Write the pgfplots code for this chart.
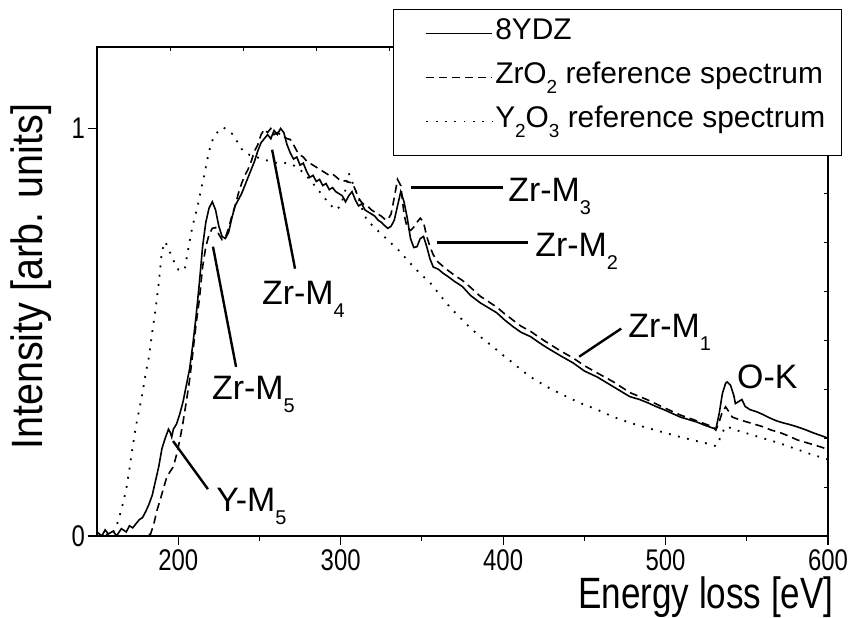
\documentclass[border=0pt]{standalone}
\usepackage{pgfplots}
\pgfplotsset{compat=1.18}
\usepackage{fontspec}
\setmainfont{Liberation Sans}
\newfontfamily\narrowsf[FakeStretch=0.8]{Liberation Sans}
\newfontfamily\semisf[FakeStretch=0.9]{Liberation Sans}
\newcommand\sub[1]{\raisebox{-0.38em}{\fontsize{20}{20}\selectfont #1}}
\newcommand\lsub[1]{\raisebox{-0.32em}{\fontsize{19}{19}\selectfont #1}}

\begin{document}
\begin{tikzpicture}
\useasboundingbox (-97bp,-82bp) rectangle (755bp,536bp);

% frame ticks on top and right
\begin{axis}[
  scale only axis, width=731bp, height=489bp,
  xmin=0, xmax=10, ymin=0, ymax=10,
  axis x line*=top, axis y line*=right,
  xtick={1,...,9}, ytick={1,...,9},
  xticklabels={}, yticklabels={},
  tick align=inside, major tick length=4bp,
  axis line style={line width=1.5bp},
  tick style={black, line width=1bp},
]
\end{axis}

\begin{axis}[
  scale only axis, width=731bp, height=489bp,
  xmin=150, xmax=600, ymin=0, ymax=1.2,
  xtick={200,300,400,500,600},
  minor xtick={250,350,450,550},
  ytick={0,1},
  xtick pos=bottom, ytick pos=left,
  tick align=outside,
  major tick length=9bp, minor tick length=5bp,
  tick style={black, line width=1.2bp},
  axis line style={line width=1.5bp},
  /pgf/number format/assume math mode=true,
  ticklabel style={font=\narrowsf\fontsize{30}{30}\selectfont, inner sep=1bp},
  xticklabel style={yshift=-3bp},
  yticklabel style={xshift=-2bp},
  xlabel={Energy loss [eV]},
  ylabel={Intensity [arb. units]},
  label style={inner sep=0pt},
  xlabel style={font=\narrowsf\fontsize{44}{44}\selectfont,
    at={(axis description cs:1.008,0)}, anchor=base east, yshift=-72bp},
  ylabel style={font=\semisf\fontsize{44}{44}\selectfont,
    at={(axis description cs:-0.0739,0.53)}, anchor=base},
  legend cell align=left,
  legend style={
    at={(axis description cs:0.405,1.0777)}, anchor=north west,
    draw=black, line width=1bp, fill=white,
    inner xsep=14bp, inner ysep=9bp, row sep=4bp,
    font=\fontsize{30}{30}\selectfont,
    nodes={inner ysep=0pt, inner xsep=2bp, text height=21bp, text depth=19bp},
  },
  legend image code/.code={
    \path (0bp,0bp);
    \draw[#1, line width=1.6bp] (18bp,5bp) -- (84bp,5bp);
  },
]

% 8YDZ
\addplot[black, line width=1.6bp] coordinates {
(150,0.01) (153,0.0) (155,0.015) (157,0.005) (160,0.012) (162,0.0) (165,0.018)
(168,0.01) (170,0.025) (172,0.02) (174,0.03) (176,0.04) (178,0.045) (180,0.06)
(182,0.078) (184,0.1) (186,0.135) (188,0.17) (190,0.215) (192,0.24) (194,0.262)
(195,0.255) (196,0.243) (197,0.262) (199,0.275) (201,0.3) (203,0.33) (205,0.37)
(207,0.41) (209,0.47) (211,0.54) (213,0.62) (215,0.71) (217,0.77) (219,0.805)
(221,0.82) (223,0.8) (225,0.76) (227,0.735) (229,0.73) (231,0.745) (233,0.78)
(235,0.81) (237,0.825) (239,0.84) (241,0.86) (243,0.88) (245,0.9) (247,0.92)
(249,0.945) (251,0.965) (253,0.975) (255,0.985) (257,0.975) (259,0.995)
(261,0.985) (263,1.0) (265,0.99) (267,0.96) (269,0.94) (271,0.925) (273,0.93)
(275,0.91) (277,0.915) (279,0.895) (281,0.88) (283,0.885) (285,0.87) (287,0.875)
(289,0.86) (291,0.865) (293,0.85) (295,0.855) (297,0.845) (299,0.84) (301,0.835)
(303,0.82) (305,0.835) (307,0.845) (309,0.825) (311,0.81) (313,0.815) (315,0.8)
(317,0.795) (319,0.79) (321,0.785) (323,0.775) (325,0.77) (327,0.762) (329,0.755)
(331,0.76) (333,0.775) (335,0.81) (337,0.845) (339,0.82) (341,0.78) (343,0.73)
(345,0.708) (347,0.71) (349,0.73) (351,0.735) (353,0.71) (355,0.68) (357,0.66)
(360,0.655) (363,0.645) (366,0.637) (370,0.625) (375,0.612) (380,0.59)
(386,0.572) (391,0.56) (396,0.548) (401,0.53) (406,0.514) (411,0.5) (417,0.489)
(422,0.475) (427,0.462) (435,0.443) (443,0.425) (450,0.405) (458,0.39)
(463,0.378) (468,0.366) (473,0.354) (478,0.342) (484,0.335) (489,0.327)
(494,0.318) (499,0.31) (504,0.301) (509,0.292) (514,0.286) (519,0.28)
(524,0.272) (529,0.265) (531,0.263) (533,0.3) (535,0.35) (537,0.375) (538,0.378)
(540,0.37) (542,0.345) (543,0.325) (545,0.33) (547,0.335) (549,0.318) (552,0.31)
(556,0.305) (560,0.298) (564,0.29) (568,0.283) (572,0.278) (576,0.274)
(581,0.268) (586,0.261) (591,0.253) (596,0.246) (600,0.24)
};
\addlegendentry{8YDZ}

% ZrO2 reference
\addplot[black, line width=1.6bp, dash pattern=on 8bp off 5bp] coordinates {
(150,0) (160,0) (170,0) (180,0) (183,0.005) (185,0.03) (187,0.064) (189,0.09)
(191,0.118) (193,0.145) (195,0.158) (197,0.17) (199,0.2) (201,0.236) (203,0.28)
(205,0.33) (207,0.383) (209,0.45) (211,0.52) (213,0.58) (215,0.66) (217,0.71)
(219,0.74) (221,0.755) (223,0.757) (225,0.74) (227,0.727) (229,0.732) (231,0.755)
(233,0.785) (235,0.81) (237,0.84) (239,0.865) (241,0.885) (243,0.9) (245,0.92)
(247,0.945) (249,0.96) (251,0.985) (253,0.998) (255,0.99) (257,1.0) (259,0.985)
(261,0.99) (263,0.985) (265,0.98) (267,0.975) (269,0.973) (271,0.96) (273,0.945)
(275,0.935) (277,0.93) (279,0.92) (281,0.915) (283,0.91) (285,0.905) (287,0.9)
(289,0.895) (291,0.89) (293,0.885) (295,0.888) (297,0.882) (299,0.875)
(301,0.87) (303,0.872) (305,0.868) (307,0.867) (309,0.85) (311,0.83) (313,0.818)
(315,0.812) (317,0.808) (319,0.8) (321,0.795) (323,0.79) (325,0.785) (327,0.778)
(329,0.776) (331,0.79) (333,0.83) (335,0.875) (337,0.86) (339,0.79) (341,0.755)
(343,0.75) (345,0.758) (347,0.77) (349,0.78) (351,0.77) (353,0.735) (355,0.71)
(357,0.69) (360,0.672) (365,0.655) (370,0.64) (375,0.627) (380,0.61) (386,0.588)
(391,0.575) (396,0.562) (401,0.545) (406,0.53) (411,0.515) (417,0.502)
(422,0.488) (427,0.475) (435,0.455) (443,0.437) (450,0.418) (458,0.4)
(468,0.378) (478,0.352) (489,0.334) (499,0.315) (509,0.297) (519,0.283)
(529,0.268) (531,0.26) (533,0.28) (535,0.305) (537,0.317) (539,0.305)
(541,0.292) (545,0.286) (550,0.28) (555,0.274) (560,0.268) (565,0.26)
(571,0.253) (576,0.245) (581,0.236) (586,0.23) (591,0.224) (596,0.218) (600,0.212)
};
\addlegendentry{ZrO\lsub{2} reference spectrum}

% Y2O3 reference
\addplot[black, line width=1.8bp, dash pattern=on 1.8bp off 7.5bp] coordinates {
(150,0) (155,0.005) (158,0.0) (160,0.01) (162,0.025) (164,0.05) (166,0.08)
(168,0.115) (170,0.165) (172,0.22) (174,0.27) (176,0.31) (178,0.35) (180,0.4)
(182,0.44) (184,0.5) (186,0.555) (188,0.62) (190,0.7) (192,0.722) (194,0.705)
(196,0.686) (198,0.668) (200,0.654) (202,0.65) (204,0.655) (206,0.7) (208,0.745)
(210,0.78) (212,0.81) (214,0.85) (216,0.885) (218,0.925) (220,0.96) (222,0.98)
(224,0.99) (226,1.0) (228,1.002) (230,0.997) (232,0.99) (234,0.985) (236,0.97)
(238,0.955) (240,0.945) (244,0.935) (248,0.93) (252,0.925) (256,0.92)
(260,0.916) (265,0.916) (269,0.914) (273,0.905) (277,0.892) (281,0.875)
(285,0.855) (289,0.835) (293,0.815) (297,0.8) (300,0.81) (303,0.85) (305,0.89)
(307,0.87) (310,0.84) (313,0.805) (316,0.776) (320,0.76) (324,0.745) (328,0.73)
(332,0.715) (336,0.7) (340,0.682) (345,0.66) (350,0.64) (355,0.622) (360,0.597)
(365,0.572) (370,0.55) (375,0.53) (380,0.51) (386,0.489) (391,0.473) (396,0.457)
(401,0.44) (406,0.425) (411,0.408) (417,0.39) (422,0.378) (427,0.366)
(437,0.346) (447,0.327) (458,0.31) (468,0.292) (478,0.278) (489,0.265)
(499,0.254) (509,0.243) (519,0.233) (529,0.224) (531,0.22) (533,0.235)
(536,0.262) (538,0.27) (541,0.262) (545,0.258) (550,0.252) (560,0.24)
(570,0.228) (580,0.214) (590,0.2) (600,0.188)
};
\addlegendentry{Y\lsub{2}O\lsub{3} reference spectrum}

% edge annotations
\begin{scope}[line width=2.4bp]
\draw (axis cs:257.8,0.948) -- (axis cs:271.9,0.656);
\draw (axis cs:221.4,0.710) -- (axis cs:235.6,0.415);
\draw (axis cs:196.8,0.233) -- (axis cs:218.3,0.115);
\draw (axis cs:343.3,0.855) -- (axis cs:400.0,0.855);
\draw (axis cs:359.4,0.720) -- (axis cs:415.4,0.720);
\draw (axis cs:446.8,0.440) -- (axis cs:472.7,0.509);
\end{scope}
\begin{scope}[every node/.style={anchor=base west, inner sep=0pt, font=\fontsize{34}{34}\selectfont}]
\node at (axis cs:251.6,0.568) {Zr-M\sub{4}};
\node at (axis cs:220.8,0.334) {Zr-M\sub{5}};
\node at (axis cs:223.3,0.059) {Y-M\sub{5}};
\node at (axis cs:403.1,0.821) {Zr-M\sub{3}};
\node at (axis cs:419.7,0.686) {Zr-M\sub{2}};
\node at (axis cs:477.0,0.486) {Zr-M\sub{1}};
\node at (axis cs:544.0,0.361) {O-K};
\end{scope}
\end{axis}
\end{tikzpicture}
\end{document}
